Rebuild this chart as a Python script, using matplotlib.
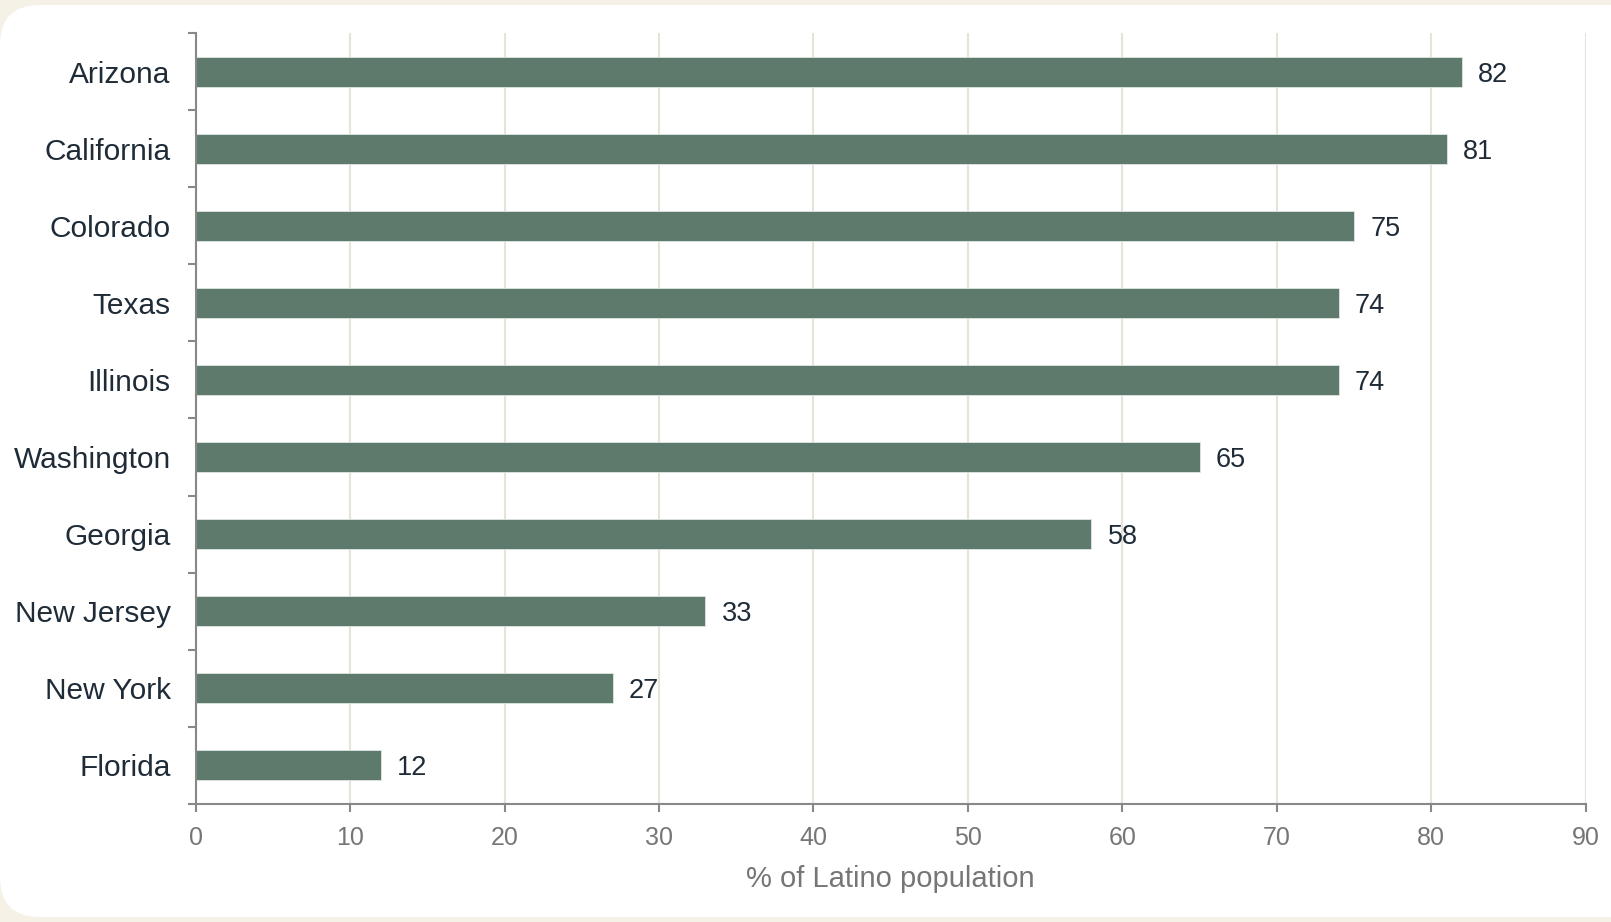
import matplotlib
matplotlib.use("Agg")
import matplotlib.pyplot as plt
from matplotlib.patches import FancyBboxPatch
from matplotlib.ticker import FixedLocator
import numpy as np

states = ["Arizona", "California", "Colorado", "Texas", "Illinois",
          "Washington", "Georgia", "New Jersey", "New York", "Florida"]
shares = [82, 81, 75, 74, 74, 65, 58, 33, 27, 12]
x_ticks = [0, 10, 20, 30, 40, 50, 60, 70, 80, 90]
x_label = "% of Latino population"

BAR = "#5e7a6d"
DARK = "#1f2c38"
GREY = "#767676"
SPINE = "#888888"
GRID = "#e8e3d9"
CREAM = "#f6f1e7"

plt.rcParams["font.family"] = ["Liberation Sans", "DejaVu Sans"]

W, H, DPI = 1611, 922, 100
fig = plt.figure(figsize=(W / DPI, H / DPI), dpi=DPI)
fig.patch.set_facecolor(CREAM)

# background layer in pixel units holding the white rounded card
bg = fig.add_axes([0, 0, 1, 1], zorder=-1)
bg.set_xlim(0, W)
bg.set_ylim(0, H)
bg.axis("off")
bg.add_patch(FancyBboxPatch((0, 5), W + 60, H - 10,
                            boxstyle="round,pad=0,rounding_size=40",
                            facecolor="white", edgecolor="none"))

ax = fig.add_axes([195.7 / W, 1 - 804 / H, (1585.7 - 195.7) / W, (804 - 33) / H])
ax.set_facecolor("none")

y = np.arange(len(states))
ax.barh(y, shares, height=0.39, color=BAR, edgecolor="#dfe6e2",
        linewidth=0.6, zorder=3)

for yi, v in zip(y, shares):
    ax.text(v + 1.05, yi, f"{v}", va="center_baseline", ha="left",
            fontsize=19.5, color=DARK, zorder=4)

ax.set_xlim(0, 90)
ax.set_ylim(len(states) - 0.5, -0.5)

ax.set_xticks(x_ticks)
ax.set_xticklabels([str(t) for t in x_ticks])
ax.xaxis.grid(True, color=GRID, linewidth=1.5, zorder=0)
ax.set_axisbelow(True)

# separators between categories as major ticks, labels on minor ticks
ax.yaxis.set_major_locator(FixedLocator(np.arange(-0.5, len(states), 1.0)))
ax.set_yticklabels([])
ax.yaxis.set_minor_locator(FixedLocator(y))
ax.set_yticklabels(states, minor=True, va="center_baseline")
ax.tick_params(axis="y", which="major", length=6, width=1.5, color=SPINE)
ax.tick_params(axis="y", which="minor", length=0, pad=18,
               labelsize=21.5, labelcolor=DARK)
ax.tick_params(axis="x", length=6, width=1.5, color=SPINE, pad=9.5,
               labelsize=18, labelcolor=GREY)

for side in ("top", "right"):
    ax.spines[side].set_visible(False)
for side in ("left", "bottom"):
    ax.spines[side].set_color(SPINE)
    ax.spines[side].set_linewidth(1.5)
    ax.spines[side].set_zorder(5)

ax.set_xlabel(x_label, fontsize=21, color=GREY, labelpad=11)

fig.savefig("out.png", dpi=DPI, facecolor=fig.get_facecolor())
